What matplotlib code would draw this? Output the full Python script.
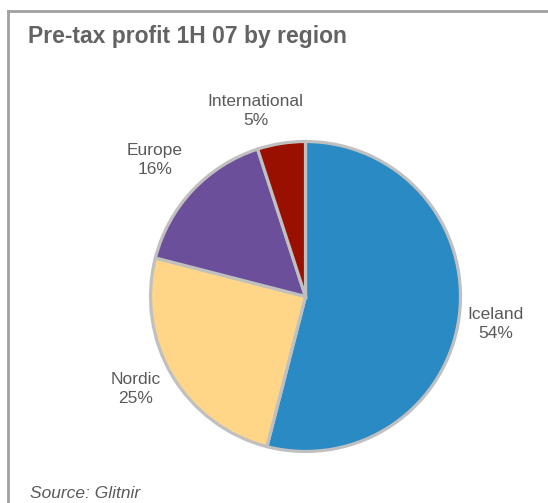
import math
import matplotlib
matplotlib.use("Agg")
import matplotlib.pyplot as plt
from matplotlib.lines import Line2D

regions = ["Iceland", "Nordic", "Europe", "International"]
shares = [54, 25, 16, 5]
colours = ["#2a8ac4", "#ffd688", "#6b4f9a", "#9a1000"]

# label placement around each wedge: radius and small angle nudge (deg)
label_r = [1.24, 1.25, 1.31, 1.24]
label_dtheta = [-1.0, -2.0, 1.0, 6.0]

plt.rcParams["font.family"] = ["Liberation Sans", "DejaVu Sans"]

fig = plt.figure(figsize=(5.48, 5.03), dpi=100)
fig.patch.set_facecolor("white")

# pie centre at (305.5, 296.5) px, radius 155 px
r_px = 155.0
span = 2.5 * r_px
ax = fig.add_axes([(305.5 - span / 2) / 548, (503 - 296.5 - span / 2) / 503,
                   span / 548, span / 503])

wedges, _ = ax.pie(shares, colors=colours, startangle=90, counterclock=False,
                   wedgeprops=dict(edgecolor="#c0c0c0", linewidth=2.3))
ax.set_xlim(-1.25, 1.25)
ax.set_ylim(-1.25, 1.25)
ax.set_aspect("equal")
ax.axis("off")

for w, name, val, r, dt in zip(wedges, regions, shares, label_r, label_dtheta):
    mid = math.radians((w.theta1 + w.theta2) / 2 + dt)
    ax.text(r * math.cos(mid), r * math.sin(mid), "%s\n%d%%" % (name, val),
            ha="center", va="center", multialignment="center",
            fontsize=12.5, color="#5a5a5a", linespacing=1.3)

fig.text(28 / 548, 1 - 43 / 503, "Pre-tax profit 1H 07 by region",
         fontsize=16.5, fontweight="bold", color="#636363", va="baseline")
fig.text(30 / 548, 5 / 503, "Source: Glitnir", fontsize=12.5,
         style="italic", color="#5a5a5a", va="baseline")

# frame lines along top and left
fig.add_artist(Line2D([8 / 548, 1], [1 - 10.5 / 503, 1 - 10.5 / 503],
                      color="#a0a0a0", linewidth=2, transform=fig.transFigure))
fig.add_artist(Line2D([8 / 548, 8 / 548], [0, 1 - 10.5 / 503],
                      color="#a0a0a0", linewidth=2, transform=fig.transFigure))

fig.savefig("out.png", dpi=100)
